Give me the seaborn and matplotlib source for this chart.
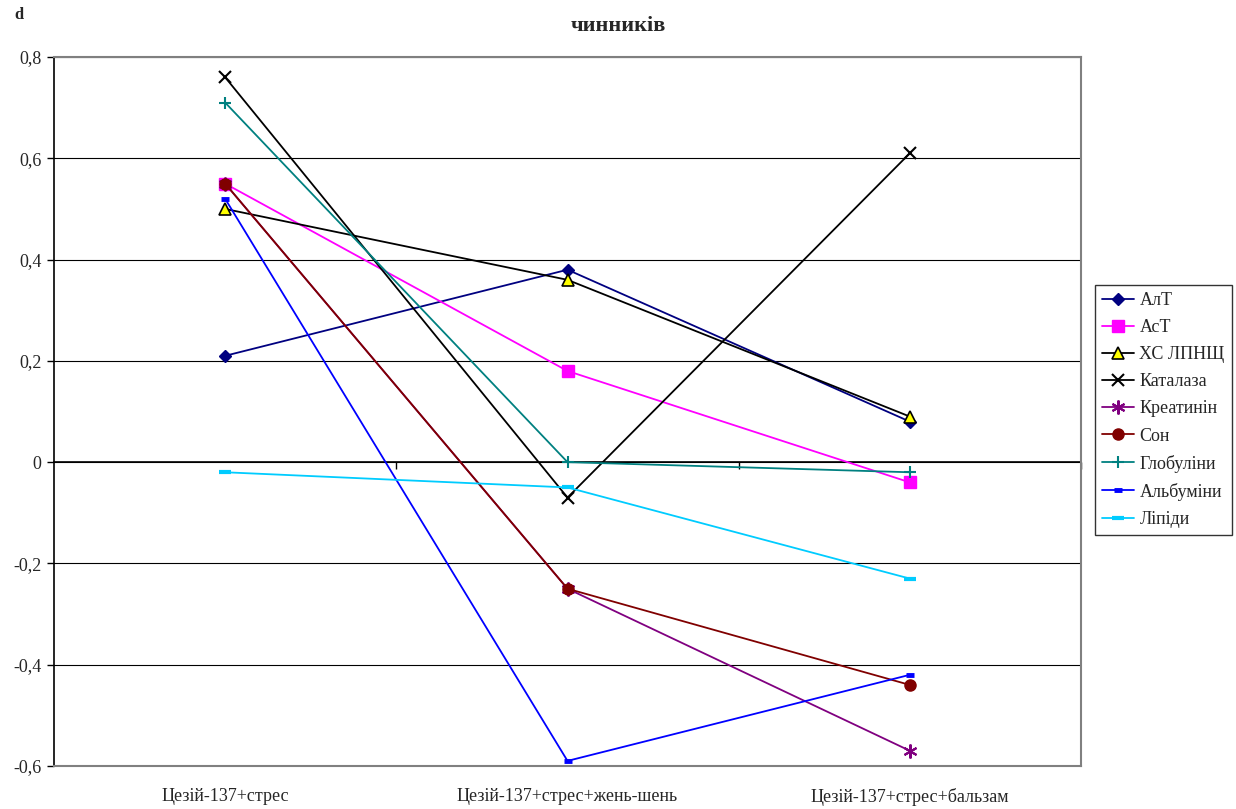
import matplotlib
matplotlib.use("Agg")
import matplotlib.pyplot as plt
import seaborn as sns
import pandas as pd
from matplotlib.ticker import FuncFormatter, FixedLocator

# Groups along the x axis
groups = ["Цезій-137+стрес", "Цезій-137+стрес+жень-шень", "Цезій-137+стрес+бальзам"]

# Effect size d for each indicator
alt = [0.21, 0.38, 0.08]
ast = [0.55, 0.18, -0.04]
hs_lpnsh = [0.50, 0.36, 0.09]
katalaza = [0.76, -0.07, 0.61]
kreatynin = [0.55, -0.25, -0.57]
son = [0.55, -0.25, -0.44]
globuliny = [0.71, 0.00, -0.02]
albuminy = [0.52, -0.59, -0.42]
lipidy = [-0.02, -0.05, -0.23]

series_names = ["АлТ", "АсТ", "ХС ЛПНЩ", "Каталаза", "Креатинін", "Сон",
                "Глобуліни", "Альбуміни", "Ліпіди"]
series_values = [alt, ast, hs_lpnsh, katalaza, kreatynin, son,
                 globuliny, albuminy, lipidy]

y_ticks = [0.8, 0.6, 0.4, 0.2, 0.0, -0.2, -0.4, -0.6]

# Visual style of each series: line colour, marker, face, edge, size, edge width
styles = {
    "АлТ":       dict(color="#000080", marker="D", mfc="#000080", mec="#000080", ms=6, mew=1.0),
    "АсТ":       dict(color="#FF00FF", marker="s", mfc="#FF00FF", mec="#FF00FF", ms=8, mew=1.0),
    "ХС ЛПНЩ":   dict(color="#000000", marker="^", mfc="#FFFF00", mec="#000000", ms=8, mew=1.2),
    "Каталаза":  dict(color="#000000", marker="x", mfc="none", mec="#000000", ms=9, mew=1.5),
    "Креатинін": dict(color="#800080", marker=(6, 2, 0), mfc="none", mec="#800080", ms=10, mew=1.5),
    "Сон":       dict(color="#800000", marker="o", mfc="#800000", mec="#800000", ms=8, mew=1.0),
    "Глобуліни": dict(color="#008080", marker="+", mfc="none", mec="#008080", ms=9, mew=1.5),
    "Альбуміни": dict(color="#0000FF", marker="_", mfc="none", mec="#0000FF", ms=6, mew=3.5),
    "Ліпіди":    dict(color="#00CCFF", marker="_", mfc="none", mec="#00CCFF", ms=8, mew=3.0),
}

rows = []
for name, vals in zip(series_names, series_values):
    for i, v in enumerate(vals):
        rows.append({"series": name, "pos": i, "d": v})
df = pd.DataFrame(rows)

sns.set_theme(style="white")
plt.rcParams["font.family"] = ["Liberation Serif", "DejaVu Serif"]

fig = plt.figure(figsize=(12.36, 8.09), dpi=100)
ax = fig.add_axes([0.0437, 0.0532, 0.8309, 0.8763])

for name in series_names:
    st = styles[name]
    sub = df[df["series"] == name]
    sns.lineplot(data=sub, x="pos", y="d", ax=ax, label=name,
                 color=st["color"], marker=st["marker"],
                 markerfacecolor=st["mfc"], markeredgecolor=st["mec"],
                 markersize=st["ms"], markeredgewidth=st["mew"],
                 linewidth=1.3, estimator=None, zorder=3)

ymin, ymax = -0.6, 0.8
ax.set_xlim(-0.5, 2.5)
ax.set_ylim(ymin, ymax)

# Horizontal gridlines
ax.yaxis.set_major_locator(FixedLocator(y_ticks))
ax.yaxis.set_major_formatter(FuncFormatter(
    lambda v, p: "0" if abs(v) < 1e-9 else f"{v:.1f}".replace(".", ",")))
ax.grid(axis="y", color="#000000", linewidth=0.8)
ax.grid(axis="x", visible=False)
ax.set_axisbelow(True)

ax.set_xticks(range(len(groups)))
ax.set_xticklabels(groups, fontsize=13)
ax.tick_params(axis="x", length=0, pad=16)
ax.tick_params(axis="y", direction="out", length=5, width=1, color="#000000",
               labelsize=13, pad=4, left=True)
ax.set_xlabel("")
ax.set_ylabel("")

for side in ("top", "right", "bottom"):
    ax.spines[side].set_color("#808080")
    ax.spines[side].set_linewidth(1.5)
ax.spines["left"].set_color("#000000")
ax.spines["left"].set_linewidth(1.2)

# Category axis running along zero, with ticks between groups
zero_loc = (0 - ymin) / (ymax - ymin)
sec = ax.secondary_xaxis(zero_loc)
sec.set_xticks([0.5, 1.5, 2.5])
sec.set_xticklabels([])
sec.tick_params(direction="out", length=5, width=1, color="#000000")
sec.spines["bottom"].set_color("#000000")
sec.spines["bottom"].set_linewidth(1.2)

leg = ax.legend(loc="upper left", bbox_to_anchor=(0.886, 0.648),
                bbox_transform=fig.transFigure, frameon=True, fancybox=False,
                fontsize=13, handlelength=1.75, handletextpad=0.3,
                labelspacing=0.56, borderpad=0.4, borderaxespad=0)
leg.get_frame().set_edgecolor("#000000")
leg.get_frame().set_linewidth(1.0)

fig.text(0.5, 0.968, "чинників", ha="center", va="center",
         fontsize=16, fontweight="bold")
fig.text(0.0113, 0.981, "d", ha="left", va="center",
         fontsize=12, fontweight="bold")

fig.savefig("out.png", dpi=100)
